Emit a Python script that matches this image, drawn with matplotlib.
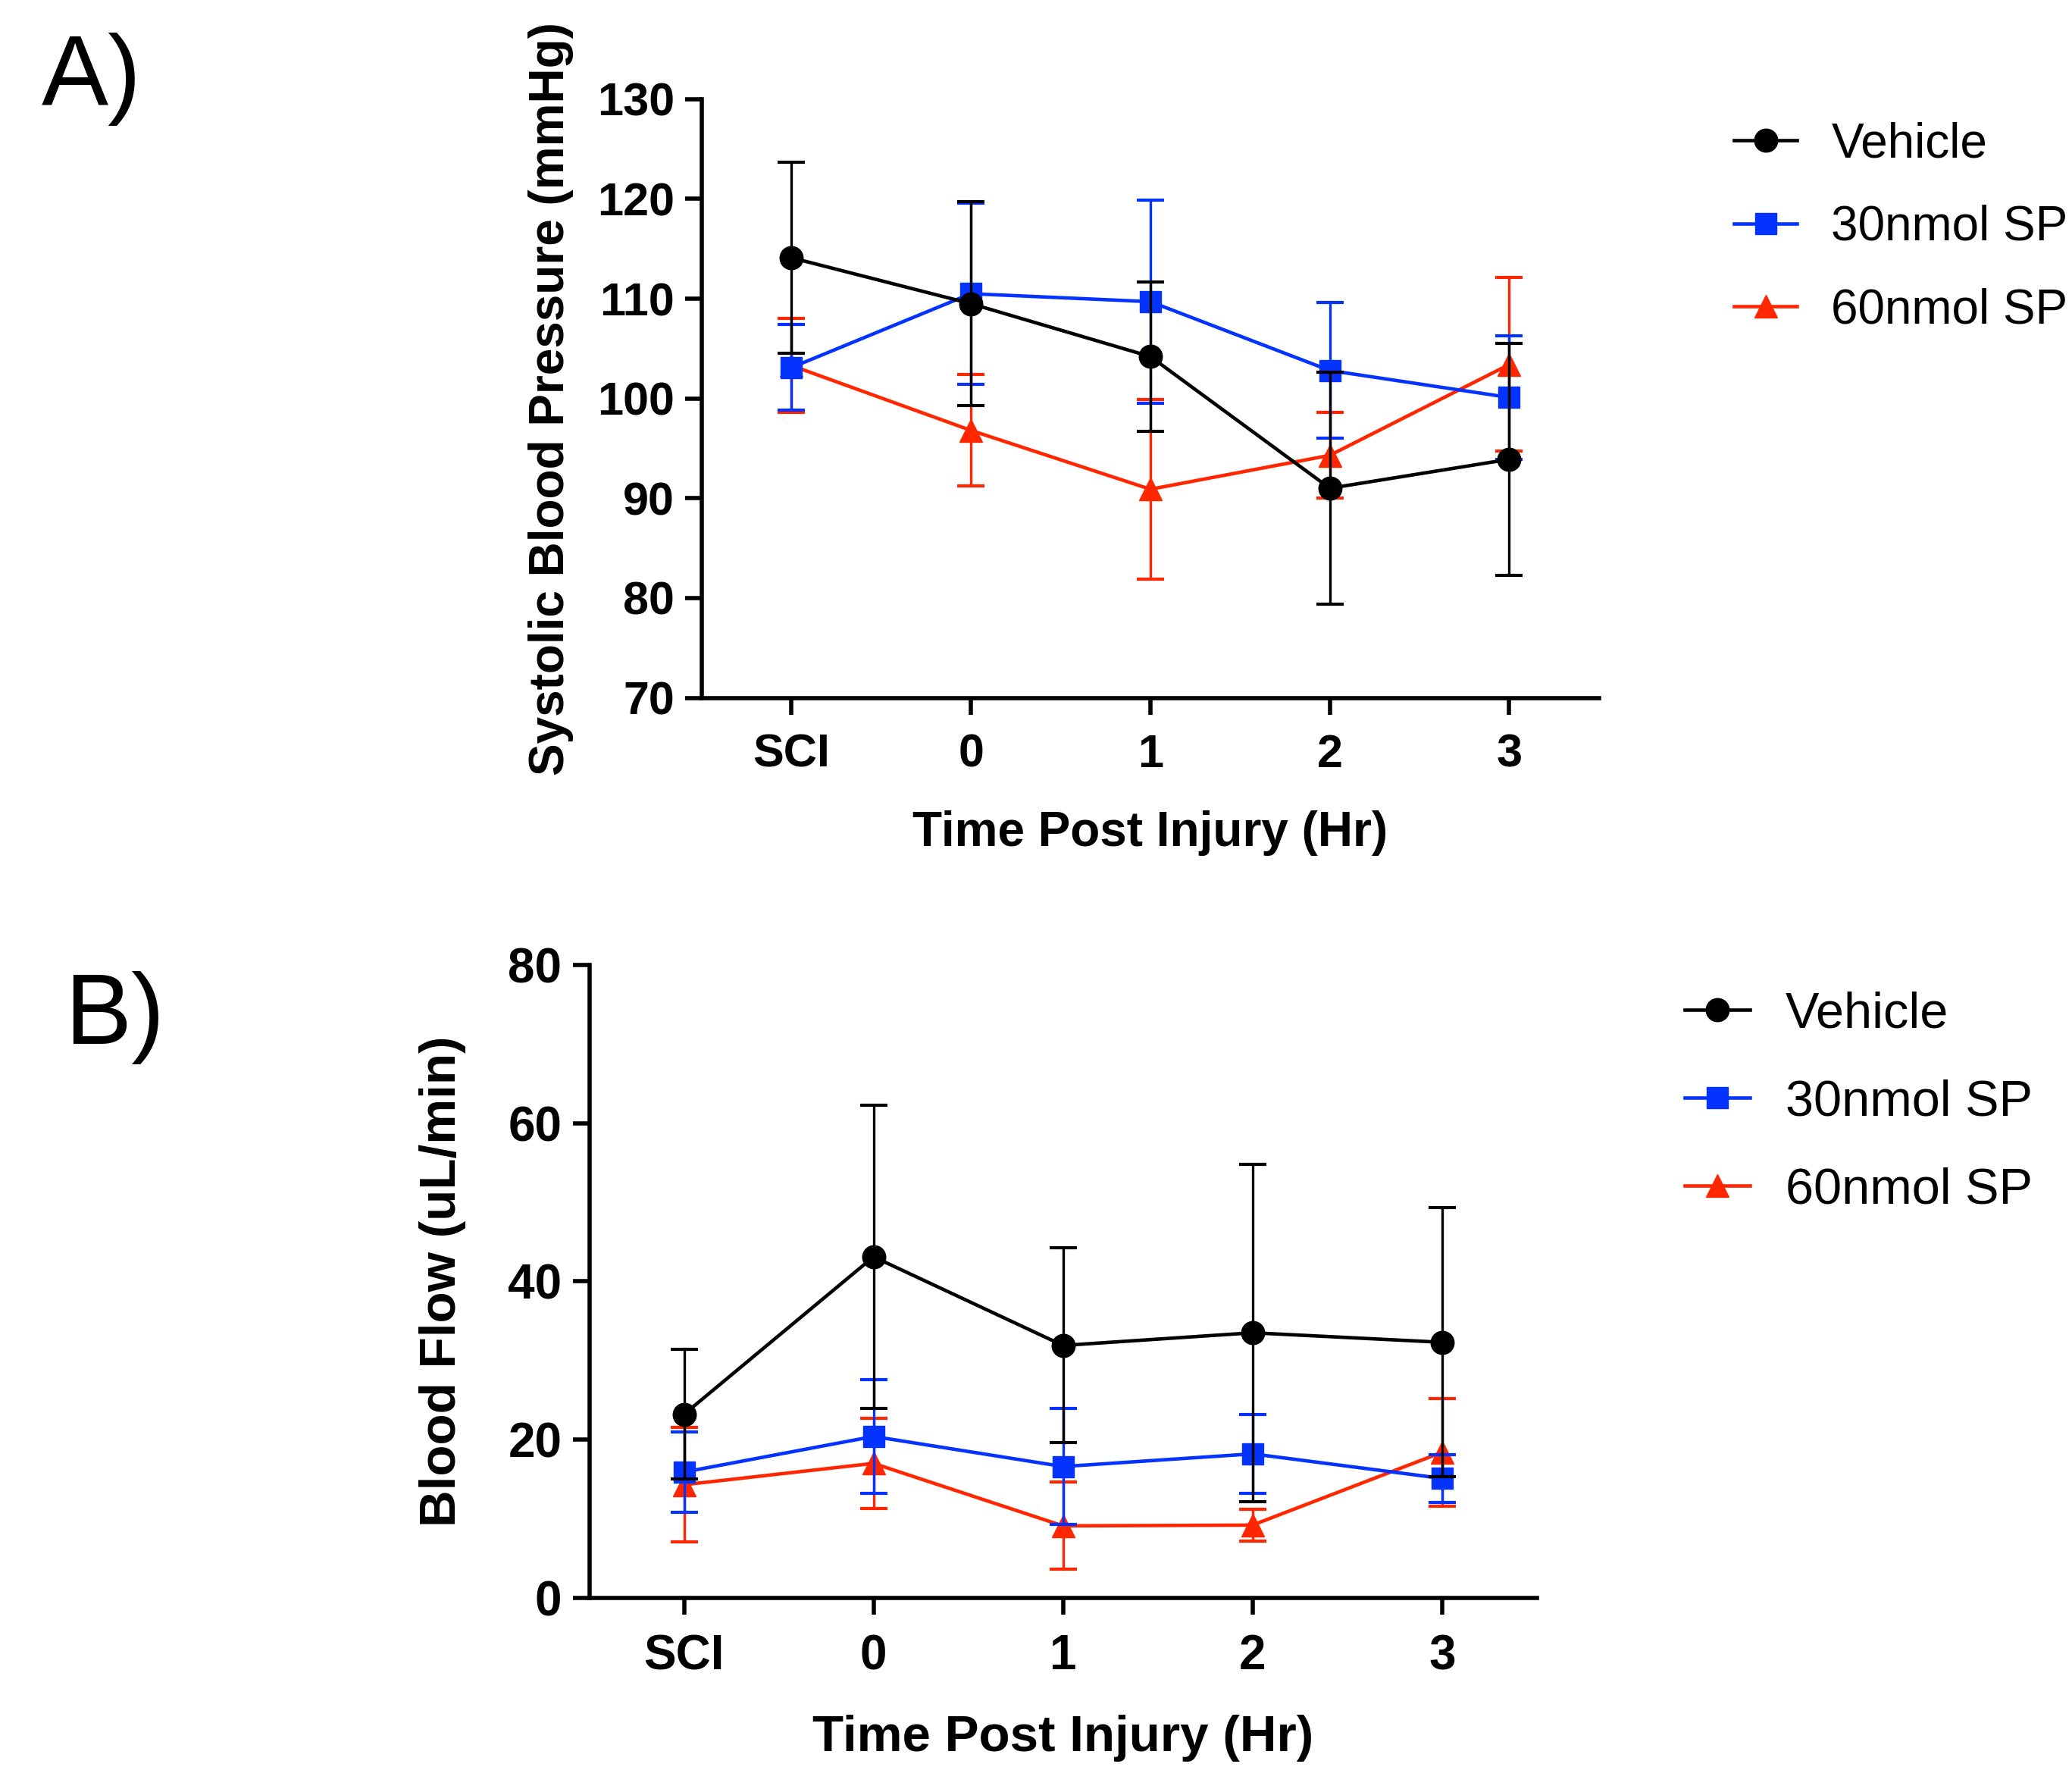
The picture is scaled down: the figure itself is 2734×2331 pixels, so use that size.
import matplotlib.pyplot as plt

plt.rcParams['font.family'] = ['Liberation Sans', 'DejaVu Sans']

times = ["SCI", "0", "1", "2", "3"]
labels = ["Vehicle", "30nmol SP", "60nmol SP"]

# A) systolic blood pressure, mean and error
bp_vehicle = [114.1, 109.5, 104.2, 91.0, 93.9]
bp_vehicle_err = [9.6, 10.2, 7.5, 11.6, 11.6]
bp_30 = [103.1, 110.5, 109.7, 102.8, 100.1]
bp_30_err = [4.3, 9.1, 10.2, 6.8, 6.2]
bp_60 = [103.3, 96.8, 90.9, 94.3, 103.4]
bp_60_err = [4.7, 5.6, 9.0, 4.3, 8.7]

# B) blood flow
bf_vehicle = [23.2, 43.1, 31.9, 33.5, 32.3]
bf_vehicle_err = [8.2, 19.2, 12.3, 21.3, 17.0]
bf_30 = [15.9, 20.4, 16.6, 18.2, 15.1]
bf_30_err = [5.1, 7.2, 7.3, 5.0, 3.0]
bf_60 = [14.3, 17.0, 9.1, 9.2, 18.4]
bf_60_err = [7.2, 5.7, 5.5, 2.0, 6.8]

colors = ["black", "#0433FF", "#FF2600"]
markers = ["o", "s", "^"]
msizes = [22, 20, 21]

fig = plt.figure(figsize=(27.34, 23.31), dpi=100)
axA = fig.add_axes([0.3387, 0.6051, 0.4330, 0.3388])
axB = fig.add_axes([0.2844, 0.0957, 0.4573, 0.3583])


def panel(ax, series, errs, ylim, yticks, ylabel, ypad, xpad, ticksize, labsize,
          legend_pos, legsize, legspace):
    x = list(range(len(times)))
    # red at the back, black on top
    for i in [2, 1, 0]:
        ax.errorbar(x, series[i], yerr=errs[i], fmt="none", ecolor=colors[i],
                    elinewidth=2.4, capsize=13, capthick=3, zorder=2 + (2 - i))
        ax.plot(x, series[i], color=colors[i], marker=markers[i], ms=msizes[i],
                lw=3.3, label=labels[i], zorder=3 + (2 - i))
    ax.set_xlim(-0.5, 4.5)
    ax.set_ylim(*ylim)
    ax.set_yticks(yticks)
    ax.set_xticks(x)
    ax.set_xticklabels(times)
    for s in ["top", "right"]:
        ax.spines[s].set_visible(False)
    for s in ["left", "bottom"]:
        ax.spines[s].set_linewidth(4)
    ax.tick_params(width=4, length=16, labelsize=ticksize)
    ax.tick_params(axis="x", pad=18)
    ax.tick_params(axis="y", pad=10)
    for t in ax.get_xticklabels() + ax.get_yticklabels():
        t.set_fontweight("bold")
    ax.set_xlabel("Time Post Injury (Hr)", fontsize=labsize, fontweight="bold", labelpad=xpad)
    ax.set_ylabel(ylabel, fontsize=labsize, fontweight="bold", labelpad=ypad)
    h, l = ax.get_legend_handles_labels()
    order = [l.index(n) for n in labels]
    fig.legend([h[k] for k in order], [l[k] for k in order],
               loc="upper left", bbox_to_anchor=legend_pos, frameon=False,
               fontsize=legsize, handlelength=1.3, handletextpad=0.7, labelspacing=legspace)


panel(axA, [bp_vehicle, bp_30, bp_60], [bp_vehicle_err, bp_30_err, bp_60_err],
      (70, 130), range(70, 131, 10), "Systolic Blood Pressure (mmHg)", 22, 32, 44, 46,
      (0.816, 0.956), 46, 0.78)
panel(axB, [bf_vehicle, bf_30, bf_60], [bf_vehicle_err, bf_30_err, bf_60_err],
      (0, 80), range(0, 81, 20), "Blood Flow (uL/min)", 40, 34, 46, 48.5,
      (0.791, 0.465), 48, 0.81)

fig.text(0.02, 0.955, "A)", fontsize=95, va="center")
fig.text(0.031, 0.424, "B)", fontsize=95, va="center")

fig.savefig("out.png", dpi=100)
